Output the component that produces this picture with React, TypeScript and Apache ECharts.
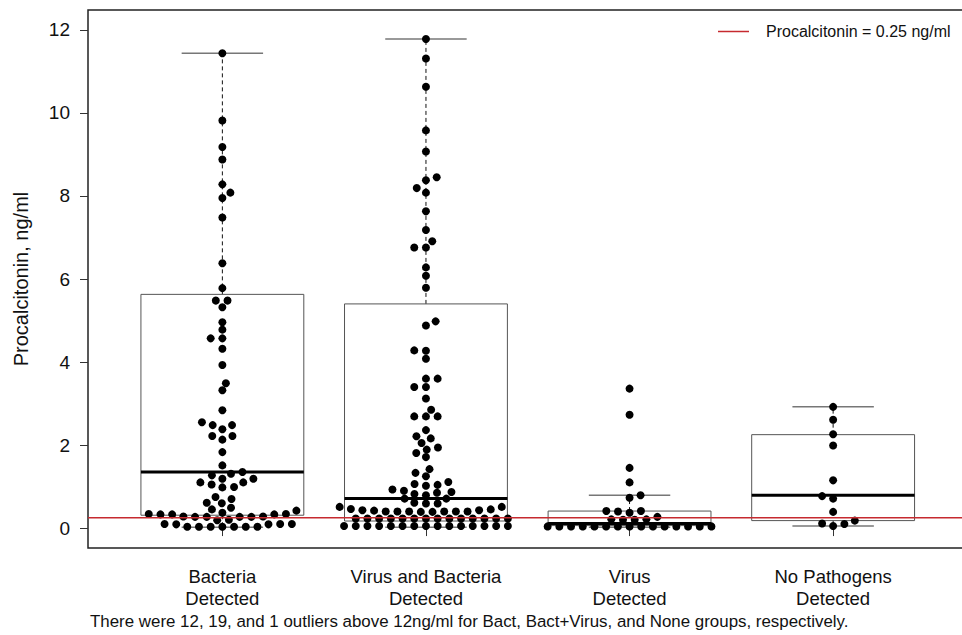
import { useEffect, useRef } from "react";
import * as echarts from "echarts";

// ---------------- data ----------------
const categories = [
  "Bacteria\nDetected",
  "Virus and Bacteria\nDetected",
  "Virus\nDetected",
  "No Pathogens\nDetected",
];
const yTicks = [0, 2, 4, 6, 8, 10, 12];
const xTicks = [1, 2, 3, 4];

// [lower whisker, Q1, median, Q3, upper whisker]
const boxBacteria = [0.02, 0.31, 1.35, 5.63, 11.44];
const boxVirusBacteria = [0.02, 0.17, 0.71, 5.4, 11.78];
const boxVirus = [0.02, 0.06, 0.11, 0.41, 0.79];
const boxNone = [0.05, 0.18, 0.79, 2.25, 2.92];

const bacteria = [
  11.44, 9.82, 9.18, 8.88, 8.28, 8.08, 7.95, 7.48, 6.38, 5.78, 5.48, 5.48, 5.32,
  4.96, 4.78, 4.57, 4.57, 4.32, 3.93, 3.49, 3.32, 2.84, 2.55, 2.48, 2.48, 2.38,
  2.22, 2.22, 2.13, 1.83, 1.51, 1.35, 1.31, 1.27, 1.19, 1.19, 1.1, 1.1, 1.05,
  0.99, 0.98, 0.75, 0.7, 0.61, 0.6, 0.49, 0.45, 0.42, 0.37, 0.34, 0.34, 0.33,
  0.33, 0.33, 0.28, 0.28, 0.27, 0.27, 0.27, 0.27, 0.2, 0.19, 0.1, 0.1, 0.1,
  0.09, 0.09, 0.03, 0.03, 0.03, 0.03, 0.03, 0.03, 0.03,
];
const virusBacteria = [
  11.78, 11.31, 10.63, 9.58, 9.07, 8.45, 8.38, 8.19, 8.08, 7.63, 7.18, 6.91,
  6.76, 6.76, 6.28, 6.08, 5.79, 4.98, 4.88, 4.28, 4.27, 4.08, 3.6, 3.6, 3.4,
  3.4, 3.12, 2.85, 2.69, 2.69, 2.69, 2.36, 2.21, 2.16, 2.05, 1.94, 1.89, 1.81,
  1.71, 1.42, 1.33, 1.25, 1.11, 1.06, 1.04, 1.02, 0.93, 0.9, 0.87, 0.85, 0.82,
  0.79, 0.71, 0.71, 0.61, 0.59, 0.59, 0.51, 0.51, 0.46, 0.45, 0.43, 0.43, 0.42,
  0.39, 0.39, 0.4, 0.4, 0.4, 0.4, 0.4, 0.4, 0.23, 0.23, 0.23, 0.23, 0.23,
  0.23, 0.23, 0.23, 0.23, 0.23, 0.23, 0.23, 0.23, 0.23, 0.05, 0.05, 0.05, 0.05,
  0.05, 0.05, 0.05, 0.05, 0.05, 0.05, 0.05, 0.05, 0.05, 0.05, 0.05,
];
const virus = [
  3.36, 2.73, 1.45, 1.1, 0.79, 0.73, 0.41, 0.41, 0.4, 0.37, 0.27, 0.21, 0.21,
  0.2, 0.2, 0.04, 0.04, 0.04, 0.04, 0.04, 0.04, 0.04, 0.04, 0.04, 0.04, 0.04,
  0.04, 0.04, 0.04, 0.04,
];
const noPathogens = [2.92, 2.61, 2.26, 1.99, 1.15, 0.77, 0.71, 0.39, 0.18, 0.11, 0.1, 0.05];

const threshold = 0.25;
const legendLabel = "Procalcitonin = 0.25 ng/ml";
const yTitle = "Procalcitonin, ng/ml";
const footnote =
  "There were 12, 19, and 1 outliers above 12ng/ml for Bact, Bact+Virus, and None groups, respectively.";

// ---------------- layout ----------------
const W = 962;
const H = 635;
const X_MIN = 0.34;
const X_MAX = 4.66;
const Y_MIN = -0.48;
const Y_MAX = 12.48;
const GRID = { left: 88, top: 10, width: 879.5, height: 538 };
const PX_PER_X = GRID.width / (X_MAX - X_MIN);
const PX_PER_Y = GRID.height / (Y_MAX - Y_MIN);
const BOX_WIDTH = 0.8;
const SWARM_DX = 11.7;
const SWARM_DY = 7.4;
const FONT = "'Liberation Sans', Arial, Helvetica, sans-serif";

// beeswarm placement (pixel space), returns horizontal offsets in px
function swarmOffsets(values: number[]): number[] {
  const order = values.map((_, i) => i).sort((a, b) => values[a] - values[b]);
  const placed: { x: number; y: number }[] = [];
  const out = new Array(values.length).fill(0);
  let side = 1;
  for (const i of order) {
    const y = values[i] * PX_PER_Y;
    const near = placed.filter((p) => Math.abs(p.y - y) < SWARM_DY);
    const cands = [0];
    for (const p of near) {
      const t = (p.y - y) / SWARM_DY;
      const need = SWARM_DX * Math.sqrt(Math.max(0, 1 - t * t));
      cands.push(p.x + need, p.x - need);
    }
    cands.sort((a, b) => {
      const d = Math.abs(a) - Math.abs(b);
      if (Math.abs(d) > 1e-6) return d;
      return side > 0 ? b - a : a - b;
    });
    let chosen = 0;
    for (const c of cands) {
      const ok = near.every((p) => {
        const u = (p.x - c) / SWARM_DX;
        const w = (p.y - y) / SWARM_DY;
        return u * u + w * w >= 1 - 1e-6;
      });
      if (ok) {
        chosen = c;
        break;
      }
    }
    if (Math.abs(chosen) > 1e-6) side = chosen > 0 ? -1 : 1;
    placed.push({ x: chosen, y });
    out[i] = chosen;
  }
  return out;
}

export default function App() {
  const ref = useRef<HTMLDivElement>(null);

  useEffect(() => {
    if (!ref.current) return;
    const chart = echarts.init(ref.current, undefined, { renderer: "svg" });

    const groups = [bacteria, virusBacteria, virus, noPathogens];
    const boxes = [boxBacteria, boxVirusBacteria, boxVirus, boxNone];
    const dots: number[][] = [];
    groups.forEach((vals, gi) => {
      const offs = swarmOffsets(vals);
      vals.forEach((v, k) => dots.push([gi + 1 + offs[k] / PX_PER_X, v]));
    });
    const boxData = boxes.map((b, i) => [i + 1, ...b]);

    chart.setOption({
      animation: false,
      grid: {
        left: GRID.left,
        top: GRID.top,
        width: GRID.width,
        height: GRID.height,
        show: true,
        borderColor: "#222",
        borderWidth: 1.5,
        backgroundColor: "transparent",
        containLabel: false,
        outerBoundsMode: "none",
      },
      xAxis: {
        type: "value",
        min: X_MIN,
        max: X_MAX,
        splitLine: { show: false },
        axisLine: { show: false },
        axisTick: {
          show: true,
          customValues: xTicks,
          length: 8,
          lineStyle: { color: "#333", width: 1 },
        },
        axisLabel: {
          customValues: xTicks,
          formatter: (v: number) => categories[Math.round(v) - 1] ?? "",
          fontSize: 18.5,
          lineHeight: 22,
          margin: 17,
          color: "#111",
          fontFamily: FONT,
        },
      },
      yAxis: {
        type: "value",
        min: Y_MIN,
        max: Y_MAX,
        splitLine: { show: false },
        axisLine: { show: false },
        axisTick: {
          show: true,
          customValues: yTicks,
          length: 8,
          lineStyle: { color: "#333", width: 1 },
        },
        axisLabel: {
          customValues: yTicks,
          fontSize: 19,
          margin: 18,
          color: "#111",
          fontFamily: FONT,
        },
      },
      series: [
        {
          type: "custom",
          z: 2,
          silent: true,
          encode: { x: 0, y: [1, 2, 3, 4, 5] },
          data: boxData,
          renderItem: (_params: any, api: any) => {
            const x = api.value(0);
            const lo = api.value(1);
            const q1 = api.value(2);
            const med = api.value(3);
            const q3 = api.value(4);
            const hi = api.value(5);
            const half = api.size([BOX_WIDTH, 0])[0] / 2;
            const capHalf = half / 2;
            const pLo = api.coord([x, lo]);
            const pQ1 = api.coord([x, q1]);
            const pMed = api.coord([x, med]);
            const pQ3 = api.coord([x, q3]);
            const pHi = api.coord([x, hi]);
            const cx = pMed[0];
            return {
              type: "group",
              children: [
                {
                  type: "line",
                  shape: { x1: cx, y1: pQ3[1], x2: cx, y2: pHi[1] },
                  style: { stroke: "#111", lineWidth: 1, lineDash: [4, 3] },
                },
                {
                  type: "line",
                  shape: { x1: cx, y1: pQ1[1], x2: cx, y2: pLo[1] },
                  style: { stroke: "#111", lineWidth: 1, lineDash: [4, 3] },
                },
                {
                  type: "line",
                  shape: { x1: cx - capHalf, y1: pHi[1], x2: cx + capHalf, y2: pHi[1] },
                  style: { stroke: "#777", lineWidth: 1.5 },
                },
                {
                  type: "line",
                  shape: { x1: cx - capHalf, y1: pLo[1], x2: cx + capHalf, y2: pLo[1] },
                  style: { stroke: "#777", lineWidth: 1.5 },
                },
                {
                  type: "rect",
                  shape: {
                    x: cx - half,
                    y: pQ3[1],
                    width: half * 2,
                    height: pQ1[1] - pQ3[1],
                  },
                  style: { fill: "none", stroke: "#555", lineWidth: 1 },
                },
                {
                  type: "line",
                  shape: { x1: cx - half, y1: pMed[1], x2: cx + half, y2: pMed[1] },
                  style: { stroke: "#000", lineWidth: 3 },
                },
              ],
            };
          },
        },
        {
          type: "scatter",
          z: 4,
          silent: true,
          symbol: "circle",
          symbolSize: 8,
          itemStyle: { color: "#000", opacity: 1 },
          data: dots,
        },
        {
          type: "line",
          z: 5,
          silent: true,
          showSymbol: false,
          symbol: "none",
          lineStyle: { color: "#c62a2f", width: 1.5 },
          data: [
            [X_MIN, threshold],
            [X_MAX, threshold],
          ],
        },
      ],
      graphic: [
        {
          type: "line",
          shape: { x1: 718, y1: 31.5, x2: 749, y2: 31.5 },
          style: { stroke: "#c62a2f", lineWidth: 1.5 },
        },
        {
          type: "text",
          x: 766,
          y: 31.5,
          style: {
            text: legendLabel,
            fontSize: 16,
            fontFamily: FONT,
            fill: "#111",
            align: "left",
            verticalAlign: "middle",
          },
        },
        {
          type: "text",
          x: 21,
          y: 279,
          rotation: Math.PI / 2,
          style: {
            text: yTitle,
            fontSize: 20,
            fontFamily: FONT,
            fill: "#111",
            align: "center",
            verticalAlign: "middle",
          },
        },
        {
          type: "text",
          x: 90,
          y: 621,
          style: {
            text: footnote,
            fontSize: 16.9,
            fontFamily: FONT,
            fill: "#111",
            align: "left",
            verticalAlign: "middle",
          },
        },
      ],
    });

    return () => chart.dispose();
  }, []);

  return (
    <div
      ref={ref}
      style={{ position: "fixed", left: 0, top: 0, width: W, height: H, background: "#fff" }}
    />
  );
}
